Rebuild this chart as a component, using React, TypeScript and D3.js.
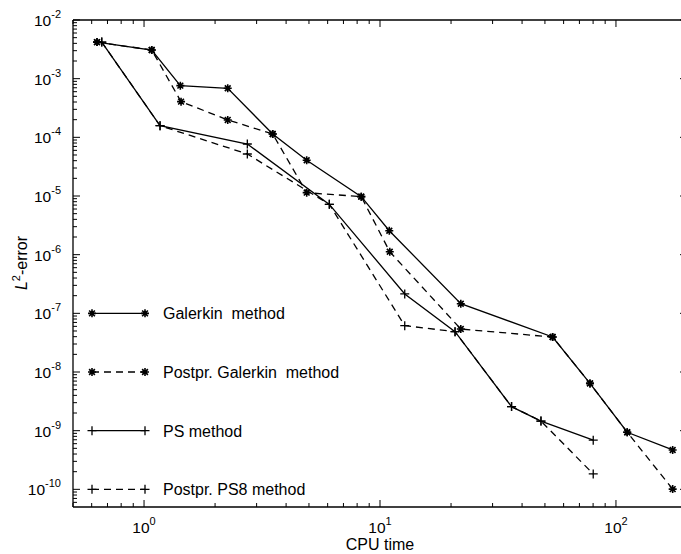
import React from 'react';
import * as d3 from 'd3';

const galerkinX = [0.632, 1.078, 1.425, 2.263, 3.51, 4.89, 8.33, 10.95, 22.0, 53.9, 77.6, 111.6, 173.9];
const galerkinY = [4.2e-3, 3.08e-3, 7.6e-4, 6.86e-4, 1.14e-4, 4.06e-5, 9.75e-6, 2.56e-6, 1.46e-7, 3.95e-8, 6.4e-9, 9.4e-10, 4.69e-10];

const postGalerkinX = [0.632, 1.078, 1.435, 2.263, 3.51, 4.89, 8.33, 11.0, 22.0, 53.9, 77.6, 111.6, 173.9];
const postGalerkinY = [4.2e-3, 3.08e-3, 4.06e-4, 1.98e-4, 1.14e-4, 1.14e-5, 9.75e-6, 1.12e-6, 5.4e-8, 3.95e-8, 6.4e-9, 9.4e-10, 1.01e-10];

const psX = [0.662, 1.169, 2.74, 6.1, 12.73, 20.8, 36.1, 48.1, 80.1];
const psY = [4.2e-3, 1.58e-4, 7.7e-5, 7.2e-6, 2.14e-7, 4.87e-8, 2.57e-9, 1.46e-9, 6.9e-10];

const ps8X = [0.662, 1.169, 2.74, 6.1, 12.73, 20.8, 36.1, 48.1, 80.1];
const ps8Y = [4.2e-3, 1.58e-4, 5.2e-5, 7.2e-6, 6.17e-8, 4.87e-8, 2.57e-9, 1.46e-9, 1.83e-10];

const seriesNames = ['Galerkin  method', 'Postpr. Galerkin  method', 'PS method', 'Postpr. PS8 method'];
const seriesMarkers = ['star', 'star', 'plus', 'plus'];
const seriesDashed = [false, true, false, true];
const legendLevels = [1e-7, 1e-8, 1e-9, 1e-10];

const xTickExps = [0, 1, 2];
const yTickExps = [-2, -3, -4, -5, -6, -7, -8, -9, -10];

const xDomain = [0.5, 200];
const yDomain = [5e-11, 1e-2];

const W = 681;
const H = 554;
const L = 73, R = 687, T = 20, B = 507;

function Marker({ x, y, kind }: { x: number; y: number; kind: string }) {
  if (kind === 'star') {
    const r = 4;
    const d = r * 0.72;
    return (
      <path
        d={`M${x - r},${y}H${x + r}M${x},${y - r}V${y + r}M${x - d},${y - d}L${x + d},${y + d}M${x - d},${y + d}L${x + d},${y - d}`}
        stroke="#000"
        strokeWidth={1.6}
        fill="none"
      />
    );
  }
  const r = 4.5;
  return (
    <path d={`M${x - r},${y}H${x + r}M${x},${y - r}V${y + r}`} stroke="#000" strokeWidth={1.3} fill="none" />
  );
}

export default function App() {
  const x = d3.scaleLog().domain(xDomain).range([L, R]);
  const y = d3.scaleLog().domain(yDomain).range([B, T]);
  const line = d3
    .line<[number, number]>()
    .x((d) => x(d[0]))
    .y((d) => y(d[1]));

  const series = [
    { xs: galerkinX, ys: galerkinY },
    { xs: postGalerkinX, ys: postGalerkinY },
    { xs: psX, ys: psY },
    { xs: ps8X, ys: ps8Y },
  ];

  const xMinor: number[] = [];
  for (let e = -1; e <= 2; e++) {
    for (let m = 2; m <= 9; m++) {
      const v = m * Math.pow(10, e);
      if (v >= xDomain[0] && v <= xDomain[1]) xMinor.push(v);
    }
  }
  const yMinor: number[] = [];
  for (let e = -11; e <= -3; e++) {
    for (let m = 2; m <= 9; m++) {
      const v = m * Math.pow(10, e);
      if (v >= yDomain[0] && v < yDomain[1]) yMinor.push(v);
    }
  }

  const font = '"Liberation Sans", Arial, Helvetica, sans-serif';
  const major = 7;
  const minor = 4;

  return (
    <svg width={W} height={H} style={{ position: 'absolute', left: 0, top: 0, background: '#fff' }} fontFamily={font}>
      <rect x={0} y={0} width={W} height={H} fill="#fff" />
      {/* frame */}
      <g stroke="#000" strokeWidth={1.3} fill="none">
        <line x1={L} y1={T} x2={R} y2={T} />
        <line x1={L} y1={B} x2={R} y2={B} />
        <line x1={L} y1={T} x2={L} y2={B} />
        <line x1={R} y1={T} x2={R} y2={B} />
      </g>
      {/* x ticks */}
      <g stroke="#000" strokeWidth={1}>
        {xTickExps.map((e) => {
          const px = x(Math.pow(10, e));
          return (
            <g key={'xM' + e}>
              <line x1={px} y1={B} x2={px} y2={B - major} />
              <line x1={px} y1={T} x2={px} y2={T + major} />
            </g>
          );
        })}
        {xMinor.map((v, i) => {
          const px = x(v);
          return (
            <g key={'xm' + i}>
              <line x1={px} y1={B} x2={px} y2={B - minor} />
              <line x1={px} y1={T} x2={px} y2={T + minor} />
            </g>
          );
        })}
        {yTickExps.map((e) => {
          const py = y(Math.pow(10, e));
          return (
            <g key={'yM' + e}>
              <line x1={L} y1={py} x2={L + major} y2={py} />
              <line x1={R} y1={py} x2={R - major} y2={py} />
            </g>
          );
        })}
        {yMinor.map((v, i) => {
          const py = y(v);
          return (
            <g key={'ym' + i}>
              <line x1={L} y1={py} x2={L + minor} y2={py} />
              <line x1={R} y1={py} x2={R - minor} y2={py} />
            </g>
          );
        })}
      </g>
      {/* tick labels */}
      {xTickExps.map((e) => (
        <text key={'xl' + e} x={x(Math.pow(10, e))} y={533} textAnchor="middle" fontSize={15.5} fill="#000">
          <tspan>10</tspan>
          <tspan dy={-8} fontSize={11}>{String(e)}</tspan>
        </text>
      ))}
      {yTickExps.map((e) => (
        <text key={'yl' + e} x={61} y={y(Math.pow(10, e)) + 6} textAnchor="end" fontSize={15.5} fill="#000">
          <tspan>10</tspan>
          <tspan dy={-8} fontSize={11}>{'-' + String(-e)}</tspan>
        </text>
      ))}
      {/* axis titles */}
      <text x={380} y={550} textAnchor="middle" fontSize={16} fill="#000">CPU time</text>
      <text transform={`translate(27,263) rotate(-90)`} textAnchor="middle" fontSize={16} fill="#000">
        <tspan fontStyle="italic">L</tspan>
        <tspan dy={-7} fontSize={11}>2</tspan>
        <tspan dy={7}>-error</tspan>
      </text>
      {/* series */}
      {series.map((s, i) => {
        const pts: [number, number][] = s.xs.map((v, j) => [v, s.ys[j]]);
        return (
          <g key={'s' + i}>
            <path
              d={line(pts) || ''}
              stroke="#000"
              strokeWidth={1.3}
              fill="none"
              strokeDasharray={seriesDashed[i] ? '7,5' : undefined}
            />
            {pts.map((p, j) => (
              <Marker key={j} x={x(p[0])} y={y(p[1])} kind={seriesMarkers[i]} />
            ))}
          </g>
        );
      })}
      {/* legend */}
      {seriesNames.map((name, i) => {
        const py = y(legendLevels[i]);
        return (
          <g key={'lg' + i}>
            <line
              x1={92}
              y1={py}
              x2={145}
              y2={py}
              stroke="#000"
              strokeWidth={1.3}
              strokeDasharray={seriesDashed[i] ? '7,5' : undefined}
            />
            <Marker x={92} y={py} kind={seriesMarkers[i]} />
            <Marker x={145} y={py} kind={seriesMarkers[i]} />
            <text x={163} y={py + 6} fontSize={16} fill="#000" style={{ whiteSpace: 'pre' }}>
              {name}
            </text>
          </g>
        );
      })}
    </svg>
  );
}
